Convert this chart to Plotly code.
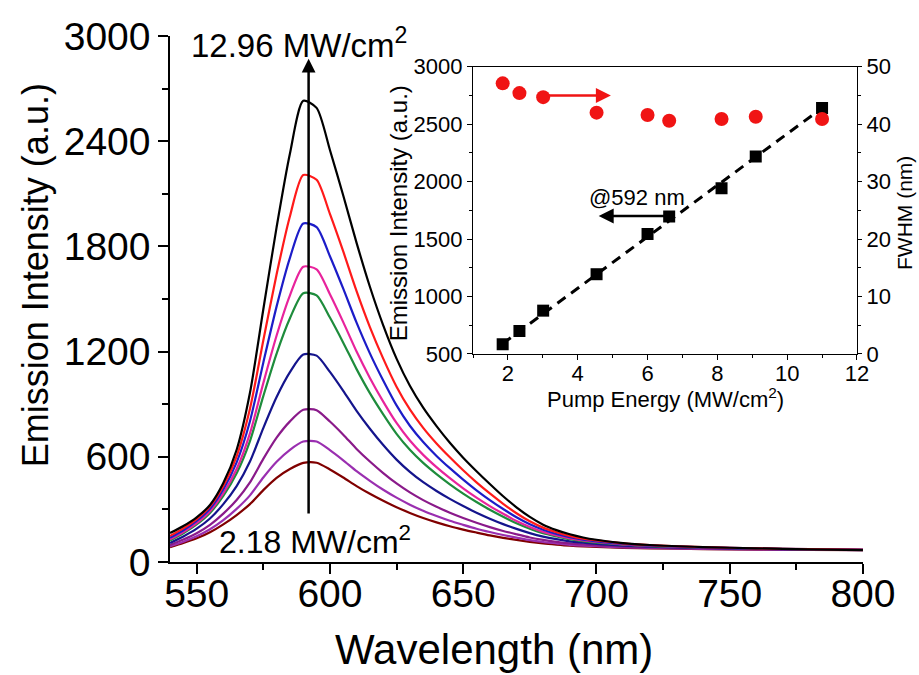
import plotly.graph_objects as go

# ---------------- data ----------------
wavelength = [540, 545, 550, 555, 560, 565, 570, 575, 580, 585, 590, 595, 600, 605, 610,
              615, 620, 625, 630, 635, 640, 645, 650, 655, 660, 665, 670, 675, 680, 685,
              690, 695, 700, 710, 720, 740, 760, 780, 800]

spec_1296 = [165, 205, 255, 325, 450, 640, 965, 1440, 1910, 2330, 2630, 2590, 2350, 2090, 1820,
             1570, 1350, 1160, 1005, 880, 775, 680, 595, 518, 445, 375, 312, 257, 213, 182,
             158, 140, 127, 108, 97, 85, 78, 72, 68]
spec_red = [149, 192, 245, 317, 434, 603, 874, 1263, 1641, 1972, 2207, 2180, 1985, 1771, 1545,
            1340, 1160, 1000, 870, 765, 676, 597, 523, 454, 391, 332, 278, 232, 196, 170,
            149, 133, 123, 106, 96, 85, 78, 73, 69]
spec_blue = [138, 181, 234, 304, 414, 568, 803, 1137, 1458, 1735, 1931, 1910, 1744, 1559, 1365,
             1190, 1035, 893, 777, 684, 605, 535, 470, 409, 353, 302, 255, 215, 184, 160,
             142, 128, 118, 103, 94, 84, 78, 73, 70]
spec_magenta = [129, 171, 222, 290, 392, 530, 734, 1020, 1292, 1521, 1684, 1669, 1527, 1368, 1200,
                1050, 915, 793, 693, 611, 541, 478, 420, 367, 319, 275, 234, 200, 172, 151,
                135, 123, 114, 101, 93, 83, 77, 72, 70]
spec_green = [123, 164, 214, 280, 377, 506, 690, 946, 1189, 1390, 1533, 1521, 1394, 1251, 1100,
              963, 842, 731, 640, 565, 501, 443, 390, 342, 298, 258, 221, 190, 164, 146,
              130, 119, 111, 99, 91, 83, 77, 72, 70]
spec_navy = [109, 146, 190, 248, 330, 433, 573, 764, 941, 1083, 1183, 1177, 1084, 976, 862,
             760, 667, 584, 514, 455, 405, 360, 319, 281, 247, 216, 189, 165, 145, 130,
             118, 110, 103, 94, 88, 80, 75, 71, 69]
spec_purple = [97, 128, 164, 212, 276, 354, 454, 588, 709, 802, 868, 866, 801, 726, 645,
               573, 507, 448, 397, 353, 315, 281, 251, 224, 199, 177, 158, 140, 126, 115,
               106, 100, 95, 88, 83, 77, 73, 70, 69]
spec_violet = [90, 116, 147, 187, 239, 303, 380, 482, 572, 640, 687, 687, 638, 580, 518,
               463, 412, 367, 327, 292, 262, 235, 212, 190, 171, 154, 139, 125, 114, 106,
               98, 93, 90, 84, 80, 75, 72, 70, 68]
spec_218 = [85, 108, 135, 170, 215, 268, 330, 410, 480, 530, 565, 566, 528, 482, 433,
            389, 349, 312, 280, 251, 226, 204, 185, 168, 152, 138, 126, 115, 106, 99,
            93, 89, 86, 81, 78, 74, 71, 69, 68]

spectra = [spec_218, spec_violet, spec_purple, spec_navy, spec_green,
           spec_magenta, spec_blue, spec_red, spec_1296]
spec_colors = ["#800000", "#9a2fb0", "#8a1a8a", "#14148c", "#1e8c3c",
               "#e8239c", "#1c1cc8", "#ff1a1a", "#000000"]

pump = [1.85, 2.33, 3.01, 4.54, 6.0, 6.62, 8.12, 9.1, 11.0]
peak_intensity = [585, 700, 877, 1194, 1545, 1696, 1943, 2219, 2640]
fwhm = [47.1, 45.4, 44.7, 42.0, 41.6, 40.6, 40.9, 41.3, 40.9]
fit_x = [1.85, 11.0]
fit_y = [590, 2640]

main_xticks = [550, 600, 650, 700, 750, 800]
main_yticks = [0, 600, 1200, 1800, 2400, 3000]

FONT = "Liberation Sans, Arial, sans-serif"

fig = go.Figure()

for s, c in zip(spectra, spec_colors):
    fig.add_trace(go.Scatter(x=wavelength, y=s, mode="lines",
                             line=dict(color=c, width=2.2, shape="spline", smoothing=0.7),
                             xaxis="x", yaxis="y", showlegend=False, hoverinfo="skip"))

# inset
fig.add_trace(go.Scatter(x=fit_x, y=fit_y, mode="lines",
                         line=dict(color="black", width=3, dash="10px,7px"),
                         xaxis="x2", yaxis="y2", showlegend=False))
fig.add_trace(go.Scatter(x=pump, y=peak_intensity, mode="markers",
                         marker=dict(symbol="square", size=12, color="black"),
                         xaxis="x2", yaxis="y2", showlegend=False))
fig.add_trace(go.Scatter(x=pump, y=fwhm, mode="markers",
                         marker=dict(symbol="circle", size=14, color="#f01414"),
                         xaxis="x2", yaxis="y3", showlegend=False))

axis_common = dict(showgrid=False, zeroline=False, showline=True, linecolor="black",
                   linewidth=1.5, ticks="outside", tickcolor="black", tickwidth=1.5,
                   automargin=False)
inset_common = {**axis_common, "linewidth": 1.2, "tickwidth": 1.2}

fig.update_layout(
    width=919, height=675,
    margin=dict(l=0, r=0, t=0, b=0, autoexpand=False),
    paper_bgcolor="white", plot_bgcolor="rgba(0,0,0,0)",
    font=dict(family=FONT, color="black"),
    xaxis=dict(domain=[0.185, 0.939], range=[540, 800], tickvals=main_xticks,
               ticklen=10, tickfont=dict(size=39, family=FONT), ticklabelstandoff=-14,
               minor=dict(dtick=25, tick0=525, ticks="outside", ticklen=6,
                          tickcolor="black", tickwidth=1.5),
               anchor="y", **axis_common),
    yaxis=dict(domain=[0.1674, 0.9467], range=[0, 3000], tickvals=main_yticks,
               ticklen=10, tickfont=dict(size=39, family=FONT),
               minor=dict(dtick=300, ticks="outside", ticklen=6,
                          tickcolor="black", tickwidth=1.5),
               anchor="x", **axis_common),
    xaxis2=dict(domain=[0.5147, 0.9325], range=[1, 12], dtick=2, tick0=0,
                ticklen=5, tickfont=dict(size=22, family=FONT), mirror=True,
                ticklabelstandoff=-5,
                minor=dict(dtick=1, tick0=1, ticks="outside", ticklen=3,
                           tickcolor="black", tickwidth=1),
                anchor="y2", **inset_common),
    yaxis2=dict(domain=[0.4756, 0.9012], range=[500, 3000], dtick=500,
                ticklen=5, tickfont=dict(size=22, family=FONT),
                minor=dict(dtick=250, ticks="outside", ticklen=3,
                           tickcolor="black", tickwidth=1),
                anchor="x2", **inset_common),
    yaxis3=dict(range=[0, 50], dtick=10, overlaying="y2", side="right",
                ticklen=4, tickfont=dict(size=22, family=FONT),
                minor=dict(dtick=5, ticks="outside", ticklen=3,
                           tickcolor="black", tickwidth=1),
                anchor="x2", **inset_common),
)

ann = []
# axis titles
ann.append(dict(text="Wavelength (nm)", x=0.538, y=1-649/675, xref="paper", yref="paper",
                showarrow=False, font=dict(size=42, family=FONT), xanchor="center", yanchor="middle"))
ann.append(dict(text="Emission Intensity (a.u.)", x=0.039, y=0.592, xref="paper", yref="paper",
                showarrow=False, textangle=-90, font=dict(size=36, family=FONT),
                xanchor="center", yanchor="middle"))
ann.append(dict(text="Pump Energy (MW/cm<sup>2</sup>)", x=0.7242, y=0.410, xref="paper", yref="paper",
                showarrow=False, font=dict(size=22, family=FONT), xanchor="center", yanchor="middle"))
ann.append(dict(text="Emission Intensity (a.u.)", x=0.433, y=0.684, xref="paper", yref="paper",
                showarrow=False, textangle=-90, font=dict(size=24, family=FONT),
                xanchor="center", yanchor="middle"))
ann.append(dict(text="FWHM (nm)", x=904/919, y=1-213/675, xref="paper", yref="paper",
                showarrow=False, textangle=-90, font=dict(size=21, family=FONT),
                xanchor="center", yanchor="middle"))
# main labels
ann.append(dict(text="12.96 MW/cm<sup>2</sup>", x=299/919, y=1-43/675, xref="paper", yref="paper",
                showarrow=False, font=dict(size=33, family=FONT), xanchor="center", yanchor="middle"))
ann.append(dict(text="2.18 MW/cm<sup>2</sup>", x=315/919, y=1-540/675, xref="paper", yref="paper",
                showarrow=False, font=dict(size=32, family=FONT), xanchor="center", yanchor="middle"))
# vertical arrow
ann.append(dict(x=592, y=2870, ax=592, ay=268, xref="x", yref="y", axref="x", ayref="y",
                text="", showarrow=True, arrowhead=2, arrowsize=1.1, arrowwidth=2.5,
                arrowcolor="black"))
# inset arrows
ann.append(dict(x=4.95, y=45.0, ax=3.05, ay=45.0, xref="x2", yref="y3", axref="x2", ayref="y3",
                text="", showarrow=True, arrowhead=2, arrowsize=1.2, arrowwidth=2.5,
                arrowcolor="#f01414"))
ann.append(dict(x=4.6, y=1700, ax=6.6, ay=1700, xref="x2", yref="y2", axref="x2", ayref="y2",
                text="", showarrow=True, arrowhead=2, arrowsize=1.2, arrowwidth=2.5,
                arrowcolor="black"))
ann.append(dict(text="@592 nm", x=5.71, y=1860, xref="x2", yref="y2", showarrow=False,
                font=dict(size=22, family=FONT), xanchor="center", yanchor="middle"))
fig.update_layout(annotations=ann)

fig.write_html("out.html", config={"displayModeBar": False},
               post_script="document.body.style.margin='0';document.body.style.overflow='hidden';")
